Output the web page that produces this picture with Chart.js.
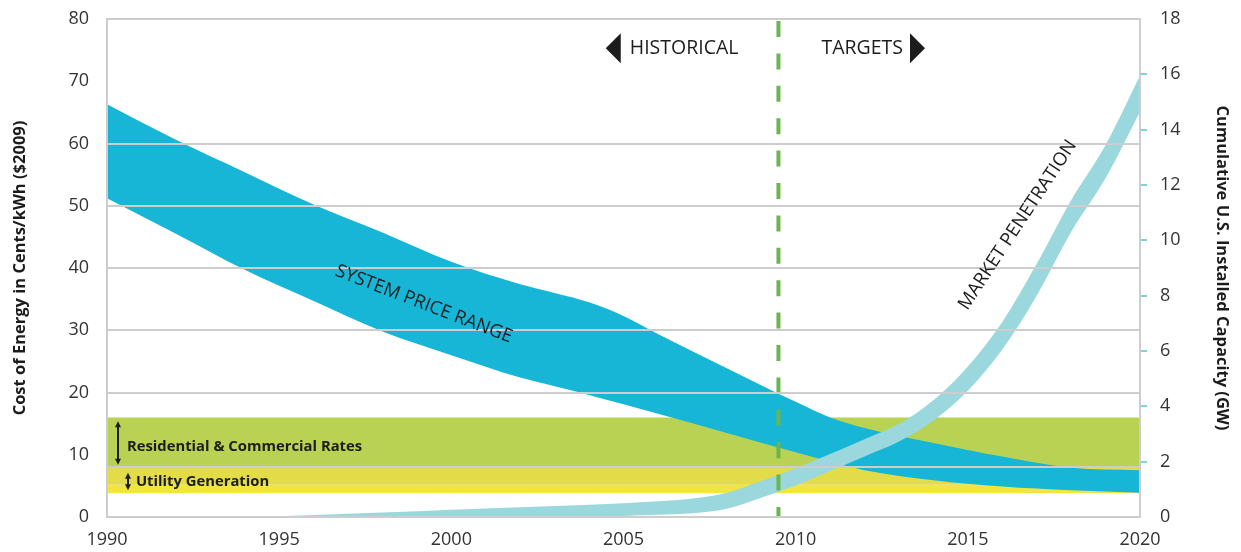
<!DOCTYPE html>
<html>
<head>
<meta charset="utf-8">
<title>Cost of Energy and Market Penetration</title>
<script src="https://cdn.jsdelivr.net/npm/chart.js@4.4.1/dist/chart.umd.min.js"></script>
<style>
  html, body { margin: 0; padding: 0; background: #fff; }
  #grafico { display: block; }
</style>
</head>
<body>
<canvas id="grafico" width="1241" height="552"></canvas>
<script>
// system price range (cents/kWh, $2009)
const priceYears = [1990, 1992, 1994, 1996, 1998, 2000, 2002, 2003, 2004, 2005, 2006, 2008, 2010, 2011, 2012, 2014, 2016, 2018, 2020];
const priceHigh = [66.3, 60.6, 55.4, 50.2, 45.7, 41.0, 37.4, 36.0, 34.5, 32.3, 29.4, 23.9, 18.5, 16.0, 14.3, 11.9, 9.7, 7.9, 7.5];
const priceLow = [51.2, 45.5, 39.7, 34.7, 29.8, 26.0, 22.4, 21.0, 19.6, 18.1, 16.6, 13.5, 10.4, 8.9, 7.5, 5.9, 4.9, 4.3, 3.9];

// cumulative installed capacity (GW), upper and lower edge of the band
const marketYears = [1994.5, 1996, 1998, 2000, 2002, 2004, 2005, 2006, 2007, 2008, 2009, 2010, 2011, 2012, 2013, 2014, 2015, 2016, 2017, 2018, 2019, 2020];
const marketHigh = [0, 0.07, 0.16, 0.26, 0.35, 0.44, 0.50, 0.57, 0.67, 0.88, 1.30, 1.76, 2.28, 2.81, 3.37, 4.22, 5.44, 7.05, 9.15, 11.45, 13.45, 15.95];
const marketLow = [0, 0, 0, 0, 0, 0.01, 0.04, 0.08, 0.14, 0.30, 0.70, 1.14, 1.66, 2.19, 2.73, 3.48, 4.56, 6.05, 8.0, 10.3, 12.25, 14.65];

// rate bands [low, high]
const bandYears = [1990, 2020];
const residentialRates = [8, 16];
const utilityRates = [3.8, 8];
const utilitySplit = 5.2;

const dividerYear = 2009.5;

const yearTicks = [1990, 1995, 2000, 2005, 2010, 2015, 2020];
const costTicks = [0, 10, 20, 30, 40, 50, 60, 70, 80];
const capacityTicks = [0, 2, 4, 6, 8, 10, 12, 14, 16, 18];
const hiddenCostGrid = [10, 70];

const fontFamily = '"Open Sans", "DejaVu Sans", sans-serif';
const gridGray = '#cdcdcd';
const textDark = '#1c1c1c';

function toPoints(xs, ys) {
  return xs.map((x, i) => ({ x, y: ys[i] }));
}

function flatBand(value) {
  return bandYears.map(x => ({ x, y: value }));
}

// keep the plot area fixed, labels may hang outside it
function fixVertical(width) {
  return s => {
    s.width = width;
    s.paddingTop = 0;
    s.paddingBottom = 0;
  };
}

function triangle(ctx, baseX, cy, dir) {
  ctx.beginPath();
  ctx.moveTo(baseX, cy - 15);
  ctx.lineTo(baseX + dir * 15, cy);
  ctx.lineTo(baseX, cy + 15);
  ctx.closePath();
  ctx.fill();
}

function doubleArrow(ctx, px, top, bottom) {
  ctx.lineWidth = 2;
  ctx.beginPath();
  ctx.moveTo(px, top + 4);
  ctx.lineTo(px, bottom - 4);
  ctx.stroke();
  ctx.beginPath();
  ctx.moveTo(px, top);
  ctx.lineTo(px - 3, top + 6);
  ctx.lineTo(px + 3, top + 6);
  ctx.closePath();
  ctx.fill();
  ctx.beginPath();
  ctx.moveTo(px, bottom);
  ctx.lineTo(px - 3, bottom - 6);
  ctx.lineTo(px + 3, bottom - 6);
  ctx.closePath();
  ctx.fill();
}

const notesPlugin = {
  id: 'notes',
  afterDraw(chart) {
    const { ctx, scales: { x, y } } = chart;
    ctx.save();
    ctx.fillStyle = textDark;
    ctx.strokeStyle = textDark;

    // rotated curve labels
    [
      { text: 'SYSTEM PRICE RANGE', year: 1999.2, cost: 34.2, angle: 21 },
      { text: 'MARKET PENETRATION', year: 2016.45, cost: 46.9, angle: -56.5 }
    ].forEach(l => {
      ctx.save();
      ctx.translate(x.getPixelForValue(l.year), y.getPixelForValue(l.cost));
      ctx.rotate(l.angle * Math.PI / 180);
      ctx.font = `18.5px ${fontFamily}`;
      ctx.textAlign = 'center';
      ctx.textBaseline = 'middle';
      ctx.fillText(l.text, 0, 0);
      ctx.restore();
    });

    // historical / targets header
    const xDiv = x.getPixelForValue(dividerYear);
    const yHead = y.getPixelForValue(75.3);
    ctx.font = `19.5px ${fontFamily}`;
    ctx.textBaseline = 'middle';
    ctx.textAlign = 'right';
    ctx.fillText('HISTORICAL', xDiv - 40, yHead);
    const wHist = ctx.measureText('HISTORICAL').width;
    triangle(ctx, xDiv - 40 - wHist - 9, yHead, -1);
    ctx.textAlign = 'left';
    ctx.fillText('TARGETS', xDiv + 43, yHead);
    const wTarg = ctx.measureText('TARGETS').width;
    triangle(ctx, xDiv + 43 + wTarg + 7, yHead, 1);

    // rate band labels
    doubleArrow(ctx, x.getPixelForValue(1990.32), y.getPixelForValue(15.4), y.getPixelForValue(8.4));
    doubleArrow(ctx, x.getPixelForValue(1990.61), y.getPixelForValue(7.1), y.getPixelForValue(4.3));
    ctx.font = `bold 14.8px ${fontFamily}`;
    ctx.textAlign = 'left';
    ctx.fillText('Residential & Commercial Rates', x.getPixelForValue(1990.58), y.getPixelForValue(11.25));
    ctx.fillText('Utility Generation', x.getPixelForValue(1990.84), y.getPixelForValue(5.6));
    ctx.restore();
  }
};

const datasets = [
  {
    label: 'divider',
    data: [{ x: dividerYear, y: 0 }, { x: dividerYear, y: 80 }],
    borderColor: '#6cb54d',
    borderWidth: 4,
    borderDash: [16, 16.4],
    borderDashOffset: 6,
    pointRadius: 0,
    yAxisID: 'y',
    order: 0
  },
  {
    label: 'Market Penetration',
    data: toPoints(marketYears, marketHigh),
    borderColor: 'transparent',
    borderWidth: 0,
    backgroundColor: '#9ad8de',
    fill: '+1',
    cubicInterpolationMode: 'monotone',
    pointRadius: 0,
    yAxisID: 'y2',
    order: 1
  },
  {
    label: 'Market Penetration low',
    data: toPoints(marketYears, marketLow),
    borderColor: 'transparent',
    borderWidth: 0,
    cubicInterpolationMode: 'monotone',
    pointRadius: 0,
    yAxisID: 'y2',
    order: 2
  },
  {
    label: 'System Price High',
    data: toPoints(priceYears, priceHigh),
    borderColor: 'transparent',
    borderWidth: 0,
    backgroundColor: '#17b6d7',
    fill: '+1',
    cubicInterpolationMode: 'monotone',
    pointRadius: 0,
    yAxisID: 'y',
    order: 3
  },
  {
    label: 'System Price Low',
    data: toPoints(priceYears, priceLow),
    borderColor: 'transparent',
    borderWidth: 0,
    cubicInterpolationMode: 'monotone',
    pointRadius: 0,
    yAxisID: 'y',
    order: 4
  },
  {
    label: 'Utility Generation upper',
    data: flatBand(utilityRates[1]),
    borderColor: 'transparent',
    borderWidth: 0,
    backgroundColor: '#e3dc49',
    fill: { value: utilitySplit },
    pointRadius: 0,
    yAxisID: 'y',
    order: 5
  },
  {
    label: 'Utility Generation lower',
    data: flatBand(utilitySplit),
    borderColor: 'transparent',
    borderWidth: 0,
    backgroundColor: '#f1e63f',
    fill: { value: utilityRates[0] },
    pointRadius: 0,
    yAxisID: 'y',
    order: 6
  },
  {
    label: 'Residential & Commercial Rates',
    data: flatBand(residentialRates[1]),
    borderColor: 'transparent',
    borderWidth: 0,
    backgroundColor: '#b9d253',
    fill: { value: residentialRates[0] },
    pointRadius: 0,
    yAxisID: 'y',
    order: 7
  }
];

const tickFont = { family: fontFamily, size: 18 };
const titleFont = { family: fontFamily, size: 16.5, weight: 'bold' };

new Chart(document.getElementById('grafico'), {
  type: 'line',
  data: { datasets },
  plugins: [notesPlugin],
  options: {
    responsive: false,
    animation: false,
    layout: { padding: { top: 19, left: 0, right: 0, bottom: 0 } },
    plugins: {
      legend: { display: false },
      tooltip: { enabled: false }
    },
    scales: {
      x: {
        type: 'linear',
        min: 1990,
        max: 2020,
        afterBuildTicks: s => { s.ticks = yearTicks.map(v => ({ value: v })); },
        afterFit: s => { s.height = 35; },
        grid: { drawOnChartArea: false, drawTicks: false },
        border: { color: gridGray, width: 2, z: 1 },
        ticks: { padding: 12, color: '#333', font: tickFont, autoSkip: false, maxRotation: 0, callback: v => String(v) }
      },
      y: {
        position: 'left',
        min: 0,
        max: 80,
        afterBuildTicks: s => {
          s.ticks = costTicks.concat([residentialRates[0]]).sort((a, b) => a - b).map(v => ({ value: v }));
        },
        afterFit: fixVertical(107),
        grid: {
          drawTicks: false,
          lineWidth: 2,
          z: 1,
          color: c => hiddenCostGrid.includes(c.tick.value) ? 'transparent' : gridGray
        },
        border: { color: gridGray, width: 2, z: 1 },
        ticks: {
          padding: 18,
          color: '#333',
          font: tickFont,
          autoSkip: false,
          callback: v => costTicks.includes(v) ? String(v) : ''
        },
        title: {
          display: true,
          text: 'Cost of Energy in Cents/kWh ($2009)',
          color: textDark,
          font: titleFont,
          padding: { top: 10, bottom: 0 }
        }
      },
      y2: {
        position: 'right',
        min: 0,
        max: 18,
        afterBuildTicks: s => { s.ticks = capacityTicks.map(v => ({ value: v })); },
        afterFit: fixVertical(101),
        grid: {
          drawOnChartArea: false,
          tickLength: 7,
          lineWidth: 2,
          z: 1,
          color: c => (c.tick.value === 0 || c.tick.value === 18) ? 'transparent' : '#82d1d9'
        },
        border: { color: gridGray, width: 2, z: 1 },
        ticks: { padding: 13, color: '#333', font: tickFont, autoSkip: false, callback: v => String(v) },
        title: {
          display: true,
          text: 'Cumulative U.S. Installed Capacity (GW)',
          color: textDark,
          font: titleFont,
          padding: { top: 9, bottom: 0 }
        }
      }
    }
  }
});
</script>
</body>
</html>
